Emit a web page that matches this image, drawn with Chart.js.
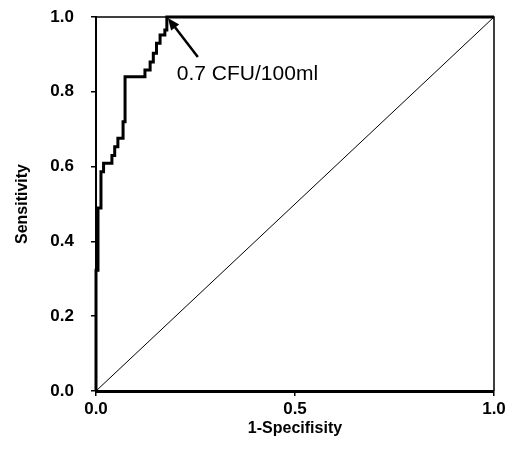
<!DOCTYPE html>
<html>
<head>
<meta charset="utf-8">
<script src="https://cdn.jsdelivr.net/npm/chart.js@4/dist/chart.umd.min.js"></script>
<style>
html, body { margin: 0; padding: 0; background: #fff; }
</style>
</head>
<body>
<canvas id="roc" width="510" height="450"></canvas>
<script>
// ROC curve corners (1-specificity, sensitivity)
const fpr = [0, 0, 0.005, 0.005, 0.0125, 0.0125, 0.019, 0.019, 0.04, 0.04, 0.047, 0.047,
  0.055, 0.055, 0.068, 0.068, 0.073, 0.073, 0.123, 0.123, 0.136, 0.136, 0.144, 0.144,
  0.152, 0.152, 0.161, 0.161, 0.173, 0.173, 0.178, 0.178, 1];
const tpr = [0, 0.323, 0.323, 0.489, 0.489, 0.586, 0.586, 0.609, 0.609, 0.63, 0.63, 0.653,
  0.653, 0.676, 0.676, 0.72, 0.72, 0.84, 0.84, 0.858, 0.858, 0.88, 0.88, 0.903,
  0.903, 0.93, 0.93, 0.952, 0.952, 0.965, 0.965, 1, 1];

// reference (chance) line
const chanceX = [0, 1];
const chanceY = [0, 1];

// cut-off marker
const cutoffLabel = '0.7 CFU/100ml';
const cutoffFpr = 0.178;
const cutoffTpr = 1.0;

const xTitle = '1-Specifisity';
const yTitle = 'Sensitivity';

const FONT = "'Liberation Sans', Arial, sans-serif";

const curve = fpr.map((x, i) => ({ x: x, y: tpr[i] }));
const chance = chanceX.map((x, i) => ({ x: x, y: chanceY[i] }));

// thin frame on top and right of the plot area
const frame = {
  id: 'frame',
  beforeDatasetsDraw(chart) {
    const { ctx, chartArea: a } = chart;
    ctx.save();
    ctx.strokeStyle = '#000';
    ctx.lineWidth = 1.5;
    ctx.beginPath();
    ctx.moveTo(a.left, a.top);
    ctx.lineTo(a.right, a.top);
    ctx.lineTo(a.right, a.bottom);
    ctx.stroke();
    ctx.restore();
  }
};

// arrow + label pointing at the cut-off
const cutoff = {
  id: 'cutoff',
  afterDatasetsDraw(chart) {
    const { ctx, scales } = chart;
    const px = scales.x.getPixelForValue(cutoffFpr);
    const py = scales.y.getPixelForValue(cutoffTpr);
    const tx = px + 31, ty = py + 40;
    const ang = Math.atan2(py + 1 - ty, px + 1 - tx);
    ctx.save();
    ctx.strokeStyle = '#000';
    ctx.fillStyle = '#000';
    ctx.lineWidth = 2.5;
    ctx.beginPath();
    ctx.moveTo(tx, ty);
    ctx.lineTo(px + 1 - Math.cos(ang) * 8, py + 1 - Math.sin(ang) * 8);
    ctx.stroke();
    ctx.beginPath();
    ctx.moveTo(px + 1, py + 1);
    ctx.lineTo(px + 1 - Math.cos(ang - 0.4) * 13, py + 1 - Math.sin(ang - 0.4) * 13);
    ctx.lineTo(px + 1 - Math.cos(ang + 0.4) * 13, py + 1 - Math.sin(ang + 0.4) * 13);
    ctx.closePath();
    ctx.fill();
    ctx.font = '21px ' + FONT;
    ctx.textBaseline = 'alphabetic';
    ctx.textAlign = 'left';
    ctx.fillText(cutoffLabel, px + 10, py + 63);
    ctx.restore();
  }
};

new Chart(document.getElementById('roc'), {
  type: 'scatter',
  data: {
    datasets: [
      { data: curve, showLine: true, borderColor: '#000', borderWidth: 3,
        pointRadius: 0, clip: false, order: 0 },
      { data: chance, showLine: true, borderColor: '#000', borderWidth: 1,
        pointRadius: 0, order: 1 }
    ]
  },
  options: {
    responsive: false,
    animation: false,
    devicePixelRatio: 1,
    layout: { padding: { top: 17, right: 16, left: 0, bottom: 0 } },
    plugins: { legend: { display: false }, tooltip: { enabled: false } },
    scales: {
      x: {
        type: 'linear', min: 0, max: 1,
        ticks: { stepSize: 0.5, callback: v => v.toFixed(1), color: '#000',
          font: { family: FONT, size: 17, weight: 'bold' }, padding: 3, maxRotation: 0 },
        grid: { drawOnChartArea: false, tickLength: 5, color: '#000', lineWidth: 1.5 },
        border: { color: '#000', width: 3 },
        title: { display: true, text: xTitle, color: '#000',
          font: { family: FONT, size: 16, weight: 'bold' }, padding: { top: 0, bottom: 12 } },
        afterFit: s => { s.height = 59; }
      },
      y: {
        type: 'linear', min: 0, max: 1,
        ticks: { stepSize: 0.2, callback: v => v.toFixed(1), color: '#000',
          font: { family: FONT, size: 17, weight: 'bold' }, padding: 17 },
        grid: { drawOnChartArea: false, tickLength: 5, color: '#000', lineWidth: 1.5 },
        border: { color: '#000', width: 2 },
        title: { display: true, text: yTitle, color: '#000',
          font: { family: FONT, size: 16, weight: 'bold' }, padding: { top: 13, bottom: 0 } },
        afterFit: s => { s.width = 96; s.paddingTop = 0; s.paddingBottom = 0; }
      }
    }
  },
  plugins: [frame, cutoff]
});
</script>
</body>
</html>
